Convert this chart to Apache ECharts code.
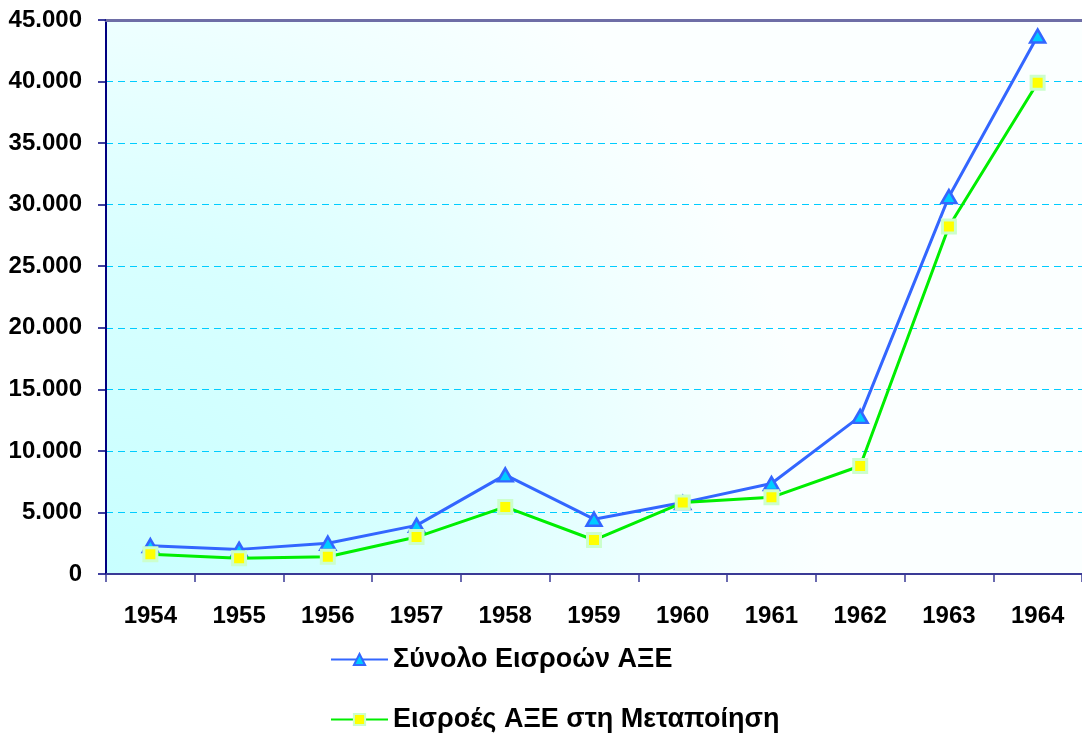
<!DOCTYPE html>
<html>
<head>
<meta charset="utf-8">
<script src="https://cdn.jsdelivr.net/npm/echarts@6/dist/echarts.min.js"></script>
<style>html,body{margin:0;padding:0;background:#fff}#c{width:1082px;height:733px}</style>
</head>
<body>
<div id="c"></div>
<script>
const years = ['1954','1955','1956','1957','1958','1959','1960','1961','1962','1963','1964'];
const totalFDI = [2300, 2000, 2500, 3950, 8050, 4450, 5800, 7350, 12800, 30650, 43700];
const manufFDI = [1600, 1270, 1400, 3000, 5450, 2760, 5800, 6230, 8770, 28220, 39900];
const seriesNames = ['Σύνολο Εισροών ΑΞΕ', 'Εισροές ΑΞΕ στη Μεταποίηση'];
const yMin = 0, yMax = 45000, yStep = 5000;

const fmt = v => String(v).replace(/\B(?=(\d{3})+(?!\d))/g, '.');
const font = 'Arial, "Liberation Sans", sans-serif';

const legendBase = {
  orient: 'vertical',
  left: 325,
  itemWidth: 57, itemHeight: 14,
  textStyle: {fontFamily: font, fontWeight: 'bold', fontSize: 27, color: '#000'}
};

const chart = echarts.init(document.getElementById('c'), null, {renderer: 'canvas'});
chart.setOption({
  animation: false,
  backgroundColor: '#ffffff',
  grid: {
    left: 106, right: 0, top: 20, bottom: 159,
    show: true, borderWidth: 0,
    backgroundColor: {
      type: 'radial', x: 106, y: 574, r: 720, global: true,
      colorStops: [
        {offset: 0, color: '#c8ffff'},
        {offset: 0.45, color: '#d8ffff'},
        {offset: 0.8, color: '#f0ffff'},
        {offset: 1, color: '#fbffff'}
      ]
    }
  },
  legend: [
    Object.assign({}, legendBase, {top: 641, data: [seriesNames[0]]}),
    Object.assign({}, legendBase, {top: 701, data: [seriesNames[1]]})
  ],
  xAxis: [{
    type: 'category', data: years, boundaryGap: true,
    axisLine: {lineStyle: {color: '#3a3a96', width: 2}},
    axisTick: {show: true, length: 8, lineStyle: {color: '#3a3a96', width: 1.5}},
    axisLabel: {margin: 30, fontFamily: font, fontWeight: 'bold', fontSize: 24, color: '#000'}
  }, {
    type: 'category', data: years, position: 'top',
    axisLine: {show: true, lineStyle: {color: '#6e6ea6', width: 3}},
    axisTick: {show: false}, axisLabel: {show: false}
  }],
  yAxis: {
    type: 'value', min: yMin, max: yMax, interval: yStep,
    axisLine: {show: true, lineStyle: {color: '#000080', width: 2}},
    axisTick: {show: true, length: 8, lineStyle: {color: '#000080', width: 1.5}},
    axisLabel: {margin: 24, fontFamily: font, fontWeight: 'bold', fontSize: 24, color: '#000', formatter: fmt},
    splitLine: {show: true, lineStyle: {color: '#00ccff', width: 1, type: [7, 5]}}
  },
  series: [{
    name: seriesNames[0], type: 'line', data: totalFDI,
    symbol: 'triangle', symbolSize: [15, 13],
    lineStyle: {color: '#3366ff', width: 3},
    itemStyle: {color: '#00ccff', borderColor: '#3366ff', borderWidth: 2.5},
    z: 3
  }, {
    name: seriesNames[1], type: 'line', data: manufFDI,
    symbol: 'rect', symbolSize: 13,
    lineStyle: {color: '#00ee00', width: 3},
    itemStyle: {color: '#ffff00', borderColor: '#ccffcc', borderWidth: 3},
    z: 4
  }]
});
</script>
</body>
</html>
